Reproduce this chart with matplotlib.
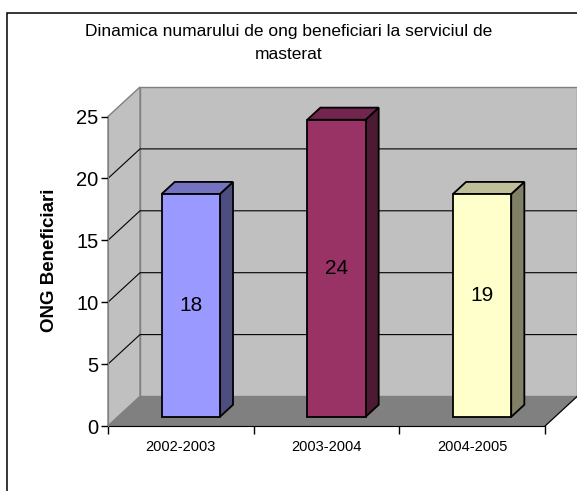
import matplotlib
matplotlib.use('Agg')
import matplotlib.pyplot as plt
import matplotlib.transforms as mtransforms
from matplotlib.patches import Polygon, Rectangle
from matplotlib.lines import Line2D
from matplotlib.colors import to_rgb
import numpy as np

plt.rcParams['font.family'] = ['Liberation Sans', 'DejaVu Sans']

# data
categories = ['2002-2003', '2003-2004', '2004-2005']
values = [18, 24, 18]
labels = ['18', '24', '19']
colors = ['#9999ff', '#993366', '#ffffcc']
yticks = [0, 5, 10, 15, 20, 25]
title = 'Dinamica numarului de ong beneficiari la serviciul de\nmasterat'
ylabel = 'ONG Beneficiari'

W, H = 577, 491
fig = plt.figure(figsize=(W / 100, H / 100), dpi=100)
ax = fig.add_axes([108 / W, 65 / H, 437 / W, 309.5 / H])
ax.set_xlim(-0.5, 2.5)
ax.set_ylim(0, 25)

# depth of the fake 3d box in pixels
DX, DY = 32, 29.5
d_front, d_back = 0.31, 0.72
bw = 0.4


def pt(x, y, d):
    X, Y = ax.transData.transform((x, y))
    return (X + d * DX, Y + d * DY)


def poly(pts, **kw):
    p = Polygon(pts, closed=True, transform=mtransforms.IdentityTransform(),
                clip_on=False, **kw)
    ax.add_artist(p)


def line(pts, **kw):
    xs, ys = zip(*pts)
    l = Line2D(xs, ys, transform=mtransforms.IdentityTransform(), clip_on=False, **kw)
    ax.add_artist(l)


x0, x1 = -0.5, 2.5
# back wall
poly([pt(x0, 0, 1), pt(x1, 0, 1), pt(x1, 25, 1), pt(x0, 25, 1)],
     facecolor='#c0c0c0', edgecolor='#808080', lw=1, zorder=0)
# left side wall
poly([pt(x0, 0, 0), pt(x0, 0, 1), pt(x0, 25, 1), pt(x0, 25, 0)],
     facecolor='#c0c0c0', edgecolor='#808080', lw=1, zorder=0)
# grid lines
for v in yticks[1:-1]:
    line([pt(x0, v, 0), pt(x0, v, 1), pt(x1, v, 1)], color='black', lw=0.8, zorder=1)
# floor
poly([pt(x0, 0, 0), pt(x1, 0, 0), pt(x1, 0, 1), pt(x0, 0, 1)],
     facecolor='#808080', edgecolor='#808080', lw=1, zorder=1)
line([pt(x1, 0, 0), pt(x1, 0, 1)], color='black', lw=0.8, zorder=1)

# bars
xs = np.arange(len(categories))
front = ax.transData + mtransforms.ScaledTranslation(d_front * DX / 100, d_front * DY / 100,
                                                     fig.dpi_scale_trans)
ax.bar(xs, values, width=bw, color=colors, edgecolor='black', lw=1.3,
       transform=front, zorder=3, clip_on=False)
for i, h in enumerate(values):
    c = np.array(to_rgb(colors[i]))
    l, r = i - bw / 2, i + bw / 2
    poly([pt(r, 0, d_front), pt(r, h, d_front), pt(r, h, d_back), pt(r, 0, d_back)],
         facecolor=c * 0.5, edgecolor='black', lw=1.3, zorder=2, joinstyle='miter')
    poly([pt(l, h, d_front), pt(r, h, d_front), pt(r, h, d_back), pt(l, h, d_back)],
         facecolor=c * 0.75, edgecolor='black', lw=1.3, zorder=2, joinstyle='miter')
    ax.text(i, float(labels[i]) / 2 + 0.3 * (i == 2), labels[i], transform=front,
            ha='center', va='center', fontsize=15, zorder=5)

# axes
for s in ['top', 'right']:
    ax.spines[s].set_visible(False)
ax.spines['left'].set_color('#808080')
ax.spines['bottom'].set_color('black')
ax.spines['bottom'].set_zorder(2)
ax.patch.set_visible(False)
ax.set_yticks(yticks)
ax.tick_params(axis='y', direction='out', length=5, width=1, color='black',
               labelsize=14.5, pad=2)
ax.set_xticks(xs)
ax.set_xticklabels(categories)
ax.set_xticks([-0.5, 0.5, 1.5, 2.5], minor=True)
ax.tick_params(axis='x', which='major', length=0, labelsize=10.5, pad=10)
ax.tick_params(axis='x', which='minor', direction='out', length=6, width=1, color='black')

fig.text(49 / W, 1 - 260 / H, ylabel, rotation=90, ha='center', va='center',
         fontsize=13.5, fontweight='bold')
fig.text(0.5, 1 - 43 / H, title, ha='center', va='center', fontsize=12.5, linespacing=1.7)

fig.add_artist(Rectangle((7 / W, -0.1), 1.2, 1.1 - 13 / H, transform=fig.transFigure,
                         fill=False, edgecolor='black', lw=1.1))

fig.savefig('out.png', dpi=100)
